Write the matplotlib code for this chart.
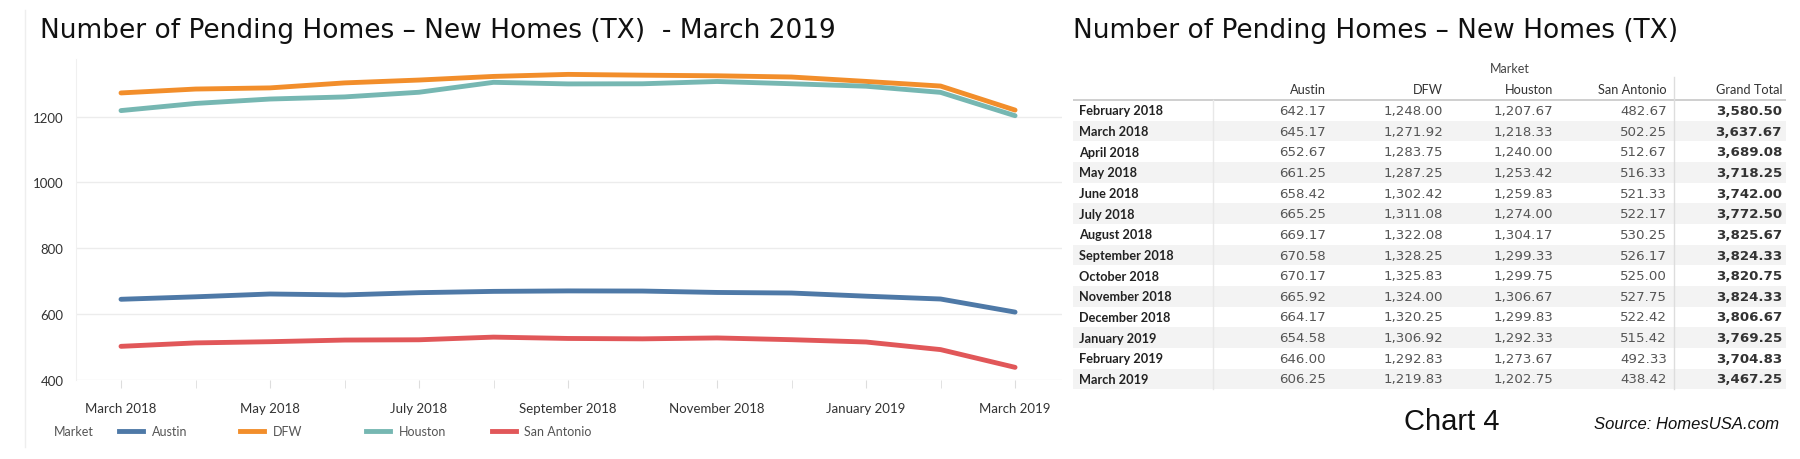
import matplotlib
matplotlib.use('Agg')
import matplotlib.pyplot as plt
from matplotlib import font_manager
from matplotlib.lines import Line2D

months = ['February 2018', 'March 2018', 'April 2018', 'May 2018', 'June 2018', 'July 2018',
          'August 2018', 'September 2018', 'October 2018', 'November 2018', 'December 2018',
          'January 2019', 'February 2019', 'March 2019']
austin = [642.17, 645.17, 652.67, 661.25, 658.42, 665.25, 669.17, 670.58, 670.17, 665.92,
          664.17, 654.58, 646.00, 606.25]
dfw = [1248.00, 1271.92, 1283.75, 1287.25, 1302.42, 1311.08, 1322.08, 1328.25, 1325.83,
       1324.00, 1320.25, 1306.92, 1292.83, 1219.83]
houston = [1207.67, 1218.33, 1240.00, 1253.42, 1259.83, 1274.00, 1304.17, 1299.33, 1299.75,
           1306.67, 1299.83, 1292.33, 1273.67, 1202.75]
san_antonio = [482.67, 502.25, 512.67, 516.33, 521.33, 522.17, 530.25, 526.17, 525.00,
               527.75, 522.42, 515.42, 492.33, 438.42]
grand_total = [3580.50, 3637.67, 3689.08, 3718.25, 3742.00, 3772.50, 3825.67, 3824.33,
               3820.75, 3824.33, 3806.67, 3769.25, 3704.83, 3467.25]
markets = ['Austin', 'DFW', 'Houston', 'San Antonio']
colors = ['#4e79a7', '#f28e2b', '#76b7b2', '#e15759']

names = {f.name for f in font_manager.fontManager.ttflist}
narrow = 'Liberation Sans Narrow' if 'Liberation Sans Narrow' in names else 'DejaVu Sans'
body = 'Lato' if 'Lato' in names else 'DejaVu Sans'
plt.rcParams['font.family'] = [body, 'DejaVu Sans']

W, H = 1800, 460
fig = plt.figure(figsize=(18, 4.6), dpi=100)

def fx(px):
    return px / W

def fy(py):
    return 1 - py / H

# left chart: March 2018 .. March 2019
chart_months = months[1:]
series = [austin[1:], dfw[1:], houston[1:], san_antonio[1:]]
x = list(range(len(chart_months)))

ax = fig.add_axes([fx(76), fy(381), fx(1062 - 76), (381 - 60) / H])
for s, c, m in zip(series, colors, markets):
    ax.plot(x, s, color=c, lw=3.5, solid_capstyle='round', label=m)
ax.set_ylim(400, 1375)
ax.set_xlim(-0.604, 12.63)
ax.set_yticks([400, 600, 800, 1000, 1200])
ax.yaxis.grid(True, color='#ececec', lw=1)
ax.set_axisbelow(True)
ax.set_xticks(x[::2])
ax.set_xticklabels([chart_months[i] for i in x[::2]])
ax.set_xticks(x, minor=True)
for sp in ['top', 'right', 'bottom']:
    ax.spines[sp].set_visible(False)
ax.spines['left'].set_color('#f0f0f0')
ax.tick_params(axis='y', length=0, labelsize=9.5, labelcolor='#333333', pad=9)
ax.tick_params(axis='x', which='both', length=6, color='#dddddd', labelsize=9.5,
               labelcolor='#333333', pad=10)
fig.add_artist(Line2D([fx(25), fx(25)], [fy(448), fy(11)], color='#eeeeee', lw=1))

fig.text(fx(40), fy(31), 'Number of Pending Homes \u2013 New Homes (TX)  - March 2019',
         fontsize=19, family=narrow, va='center', ha='left', color='#111111')

# legend row
fig.text(fx(54), fy(432), 'Market', fontsize=9, color='#555555', va='center')
for xl, c, m in zip([119, 240, 366, 492], colors, markets):
    fig.legend([Line2D([], [], color=c, lw=3.5)], [m], loc='center left',
               bbox_to_anchor=(fx(xl), fy(432)), frameon=False, fontsize=9,
               handlelength=1.9, handletextpad=0.7, labelcolor='#555555',
               borderaxespad=0, borderpad=0)

# right table
fig.text(fx(1073), fy(31), 'Number of Pending Homes \u2013 New Homes (TX)',
         fontsize=19, family=narrow, va='center', ha='left', color='#111111')
tx = fig.add_axes([fx(1073), fy(395), fx(1786 - 1073), (395 - 55) / H])
tx.set_xlim(1073, 1786)
tx.set_ylim(395, 55)
tx.axis('off')

col_right = [1326, 1443, 1553, 1667, 1782]
headers = markets + ['Grand Total']
columns = [austin, dfw, houston, san_antonio, grand_total]
tx.text(1510, 69, 'Market', fontsize=9, color='#444444', ha='center', va='center')
for xr, h in zip(col_right, headers):
    tx.text(xr, 89.5, h, fontsize=9.2, color='#333333', ha='right', va='center')
row_h = 20.66
for i, mth in enumerate(months):
    yc = 111.4 + row_h * i
    if i % 2 == 1:
        tx.axhspan(yc - row_h / 2, yc + row_h / 2, xmin=0, xmax=1, color='#f3f3f3',
                   lw=0, zorder=0)
    tx.text(1079, yc, mth, fontsize=9.2, color='#222222', ha='left', va='center',
            fontweight='bold')
    for j, (xr, col) in enumerate(zip(col_right, columns)):
        tx.text(xr, yc, f'{col[i]:,.2f}', fontsize=9.6, ha='right', va='center',
                family='DejaVu Sans',
                color='#333333' if j == 4 else '#555555',
                fontweight='bold' if j == 4 else 'normal')
last = 111.4 + row_h * (len(months) - 0.5)
tx.plot([1073, 1786], [100.5, 100.5], color='#cccccc', lw=1.3)
tx.plot([1213, 1213], [100.5, last], color='#e8e8e8', lw=1)
tx.plot([1674, 1674], [78, last], color='#dddddd', lw=1)

fig.text(fx(1452), fy(422), 'Chart 4', fontsize=21, family='Liberation Sans',
         ha='center', va='center', color='#111111')
fig.text(fx(1779), fy(425), 'Source: HomesUSA.com', fontsize=12, family='Liberation Sans',
         style='italic', ha='right', va='center', color='#111111')

fig.savefig('out.png', dpi=100)
